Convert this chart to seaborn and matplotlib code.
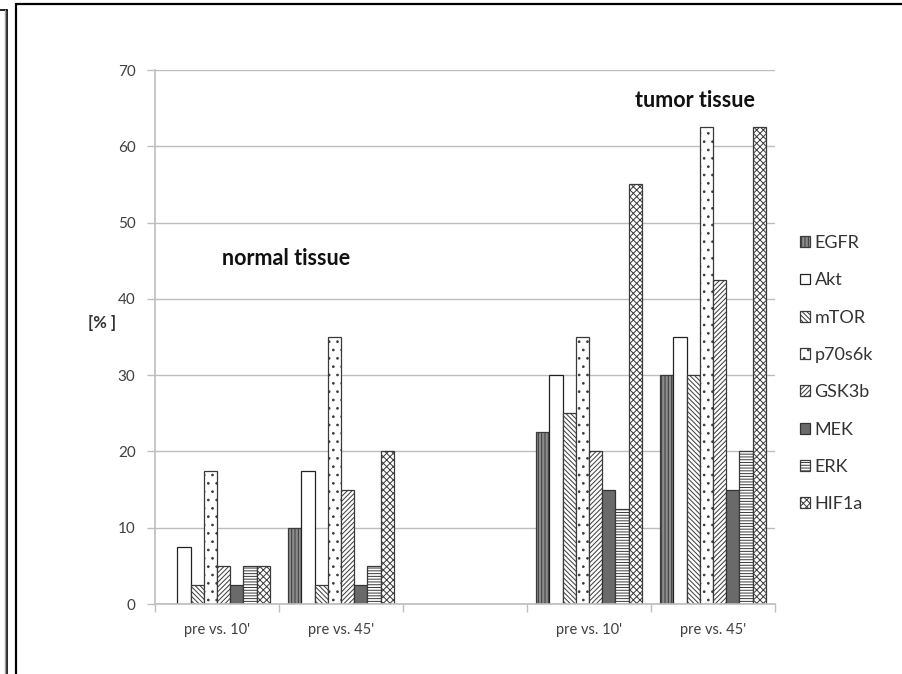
import numpy as np
import pandas as pd
import seaborn as sns
import matplotlib.pyplot as plt
from matplotlib.lines import Line2D

# ---- data ----
categories = ["pre vs. 10'", "pre vs. 45'", " ", "pre vs. 10' ", "pre vs. 45' "]
tick_labels = ["pre vs. 10'", "pre vs. 45'", "", "pre vs. 10'", "pre vs. 45'"]
proteins = ["EGFR", "Akt", "mTOR", "p70s6k", "GSK3b", "MEK", "ERK", "HIF1a"]
normal_10 = [0, 7.5, 2.5, 17.5, 5, 2.5, 5, 5]
normal_45 = [10, 17.5, 2.5, 35, 15, 2.5, 5, 20]
empty_gap = [np.nan] * 8
tumor_10 = [22.5, 30, 25, 35, 20, 15, 12.5, 55]
tumor_45 = [30, 35, 30, 62.5, 42.5, 15, 20, 62.5]

rows = []
for cat, vals in zip(categories, [normal_10, normal_45, empty_gap, tumor_10, tumor_45]):
    for p, v in zip(proteins, vals):
        rows.append({"cat": cat, "protein": p, "value": v})
df = pd.DataFrame(rows)

sns.set_theme(style="white")
plt.rcParams['font.family'] = ['Lato', 'DejaVu Sans']
plt.rcParams['hatch.linewidth'] = 0.7

fig = plt.figure(figsize=(9.02, 6.74), dpi=100)
ax = fig.add_axes([155/902, 70/674, 620/902, 534/674])

sns.barplot(data=df, x="cat", y="value", hue="protein", order=categories,
            hue_order=proteins, width=0.85, gap=0, legend=False, ax=ax,
            errorbar=None)

styles = {
    "EGFR":   dict(fc="#8c8c8c", hatch="|||||", ec="#3a3a3a"),
    "Akt":    dict(fc="white", hatch=None, ec="#222222"),
    "mTOR":   dict(fc="white", hatch="\\\\\\\\\\\\\\", ec="#3a3a3a"),
    "p70s6k": dict(fc="white", hatch="..", ec="#3a3a3a"),
    "GSK3b":  dict(fc="white", hatch="///////", ec="#3a3a3a"),
    "MEK":    dict(fc="#6a6a6a", hatch=None, ec="#333333"),
    "ERK":    dict(fc="white", hatch="------", ec="#3a3a3a"),
    "HIF1a":  dict(fc="white", hatch="xxxxx", ec="#3a3a3a"),
}
for cont, p in zip(ax.containers, proteins):
    st = styles[p]
    for bar in cont:
        bar.set_facecolor(st["fc"])
        bar.set_edgecolor(st["ec"])
        bar.set_linewidth(0.9)
        if st["hatch"]:
            bar.set_hatch(st["hatch"])

ax.set_ylim(0, 70)
ax.set_xlim(-0.5, 4.5)
ax.set_yticks(np.arange(0, 71, 10))
ax.yaxis.grid(True, color="#bdbdbd", lw=1.0)
ax.set_axisbelow(True)
ax.set_xticks(range(5))
ax.set_xticklabels(tick_labels)
ax.set_xticks(np.arange(-0.5, 5, 1), minor=True)
ax.tick_params(axis="x", which="major", length=0, pad=14, labelsize=10.5, labelcolor="#404040")
ax.tick_params(axis="x", which="minor", length=6, width=1, color="#bdbdbd", direction="out", bottom=True)
ax.tick_params(axis="y", length=6, width=1, color="#bdbdbd", left=True, direction="out",
               labelsize=11, labelcolor="#404040", pad=8)
ax.set_xlabel("")
ax.set_ylabel("")
for s in ["top", "right"]:
    ax.spines[s].set_visible(False)
for s in ["left", "bottom"]:
    ax.spines[s].set_color("#bdbdbd")
    ax.spines[s].set_linewidth(1.2)

ax.text(0.04, 45.3, "normal tissue", fontsize=15.5, fontweight="bold", va="center", ha="left", color="#111111")
ax.text(3.37, 66.0, "tumor tissue", fontsize=15.5, fontweight="bold", va="center", ha="left", color="#111111")
fig.text(88/902, 1 - 323/674, "[% ]", fontsize=12, fontweight="bold", color="#333333", va="center", ha="left")

leg = ax.legend(handles=list(ax.containers), labels=proteins, loc="upper left",
                bbox_to_anchor=(791/902, 1 - 226/674), bbox_transform=fig.transFigure,
                frameon=False, fontsize=13, handlelength=0.55, handleheight=0.55,
                handletextpad=0.25, labelspacing=1.18, borderpad=0)
for t in leg.get_texts():
    t.set_color("#333333")

# frame lines (figure pixels)
def fline(x0, y0, x1, y1, **kw):
    fig.add_artist(Line2D([x0/902, x1/902], [1 - y0/674, 1 - y1/674],
                          transform=fig.transFigure, **kw))

fline(16, 4, 902, 4, color="black", lw=1.6)
fline(16, 4, 16, 674, color="black", lw=1.6)
fline(0, 10, 7, 10, color="black", lw=1.2)
fline(7, 10, 7, 674, color="black", lw=1.2)
fline(4.5, 10, 4.5, 674, color="#9a9a9a", lw=1.0)

fig.savefig("out.png", dpi=100)
